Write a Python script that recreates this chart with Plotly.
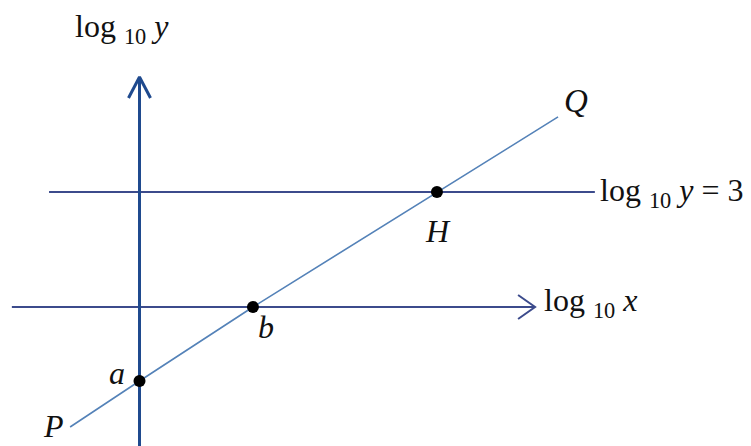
import plotly.graph_objects as go

# ---- data (log10 units) ----
line_x = [-1.81, 0.0, 2.96, 7.76, 10.92]      # P, a, b, H, Q
line_y = [-3.13, -1.93, 0.0, 3.0, 4.96]
point_names = ["a", "b", "H"]
point_x = [0.0, 2.96, 7.76]
point_y = [-1.93, 0.0, 3.0]
xaxis_span = [-3.33, 10.32]      # horizontal axis (log10 x)
yaxis_span = [-3.7, 6.0]         # vertical axis (log10 y)
level_y = 3.0                    # log10 y = 3
level_span = [-2.36, 11.88]

W, H = 751, 446
UNIT = 38.33          # pixels per log unit
OX, OY = 139.5, 307   # pixel position of origin

def px(x, y):
    return ((x - OX) / UNIT, (OY - y) / UNIT)

xr = [px(0, 0)[0], px(W, 0)[0]]
yr = [px(0, H)[1], px(0, 0)[1]]

fig = go.Figure()

axis_col = "#1f4a8e"
hline_col = "#3c4b8c"
pq_col = "#5482b8"

# level line log10 y = 3
fig.add_trace(go.Scatter(x=level_span, y=[level_y, level_y], mode="lines",
                         line=dict(color=hline_col, width=2), hoverinfo="skip"))
# horizontal axis
fig.add_trace(go.Scatter(x=xaxis_span, y=[0, 0], mode="lines",
                         line=dict(color=hline_col, width=2), hoverinfo="skip"))
# horizontal arrow chevron
bx, sy = 17 / UNIT, 12 / UNIT
tx = xaxis_span[1]
fig.add_trace(go.Scatter(x=[tx - bx, tx, tx - bx], y=[sy, 0, -sy], mode="lines",
                         line=dict(color=hline_col, width=2), hoverinfo="skip"))
# vertical axis
fig.add_trace(go.Scatter(x=[0, 0], y=yaxis_span, mode="lines",
                         line=dict(color=axis_col, width=3), hoverinfo="skip"))
by, sx = 21 / UNIT, 11 / UNIT
ty = yaxis_span[1]
fig.add_trace(go.Scatter(x=[-sx, 0, sx], y=[ty - by, ty, ty - by], mode="lines",
                         line=dict(color=axis_col, width=3), hoverinfo="skip"))
# line PQ
fig.add_trace(go.Scatter(x=line_x, y=line_y, mode="lines",
                         line=dict(color=pq_col, width=1.6), hoverinfo="skip"))
# points
fig.add_trace(go.Scatter(x=point_x, y=point_y, mode="markers",
                         marker=dict(color="black", size=12), hoverinfo="skip"))

font_serif = "Liberation Serif, Times New Roman, serif"
tcol = "#111111"

def label(text, pxx, pyy, size=32, anchor="center"):
    x, y = px(pxx, pyy)
    fig.add_annotation(x=x, y=y, xref="x", yref="y", text=text, showarrow=False,
                       font=dict(family=font_serif, size=size, color=tcol),
                       xanchor=anchor, yanchor="middle")

label("log <sub>10</sub> <i>y</i>", 73, 28, anchor="left")
label("log <sub>10</sub> <i>y</i> = 3", 598, 192, anchor="left")
label("log <sub>10</sub> <i>x</i>", 542, 302, anchor="left")
label("<i>Q</i>", 576, 101, size=33)
label("<i>H</i>", 438, 231, size=32)
label("<i>b</i>", 266, 327, size=32)
label("<i>a</i>", 117, 373, size=32)
label("<i>P</i>", 53, 426, size=32)

fig.update_layout(
    width=W, height=H, margin=dict(l=0, r=0, t=0, b=0),
    paper_bgcolor="white", plot_bgcolor="white", showlegend=False,
    xaxis=dict(range=xr, visible=False, fixedrange=True),
    yaxis=dict(range=yr, visible=False, fixedrange=True),
)

fig.write_html("out.html", config={"displayModeBar": False},
               post_script="document.body.style.margin='0';document.body.style.overflow='hidden';")
